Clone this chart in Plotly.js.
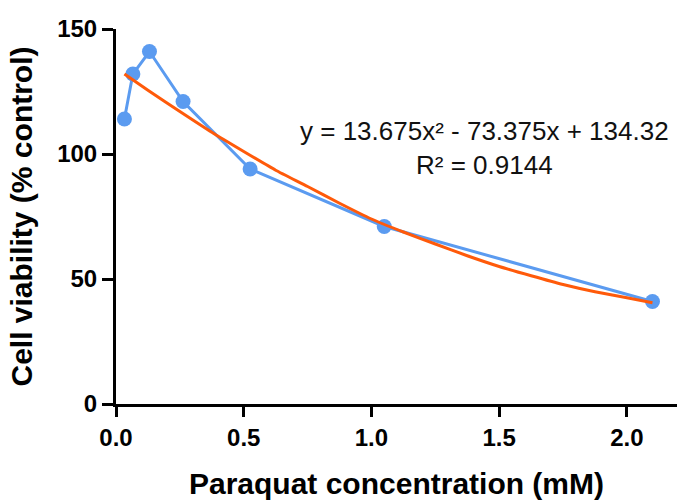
<!DOCTYPE html>
<html>
<head>
<meta charset="utf-8">
<script src="https://cdn.plot.ly/plotly-3.0.1.min.js"></script>
<style>html,body{margin:0;padding:0;background:#fff;}#chart{width:677px;height:500px;}</style>
</head>
<body>
<div id="chart"></div>
<script>
// Measured data (paraquat concentration in mM, viability in % of control)
var concentration = [0.033, 0.066, 0.131, 0.2625, 0.525, 1.05, 2.1];
var viability = [114, 132, 141, 121, 94, 71, 41];

// Trend line
var trendX = [0.033, 0.125, 0.25, 0.375, 0.5, 0.625, 0.75, 0.875, 1.0, 1.125, 1.25, 1.375, 1.5, 1.625, 1.75, 1.875, 2.0, 2.1];
var trendY = [132, 125.5, 117, 108.7, 101, 93.5, 87, 80.3, 74, 68.8, 64, 59.3, 55, 51.3, 47.8, 44.9, 42.5, 40.5];

var xTickVals = [0, 0.5, 1.0, 1.5, 2.0];
var xTickText = ["0.0", "0.5", "1.0", "1.5", "2.0"];
var yTickVals = [0, 50, 100, 150];
var yTickText = ["0", "50", "100", "150"];

var equationText = "y = 13.675x² - 73.375x + 134.32<br>R² = 0.9144";

var traces = [
  {
    x: concentration, y: viability, type: "scatter", mode: "lines+markers",
    line: {color: "#5b9bf0", width: 3},
    marker: {color: "#5b9bf0", size: 15},
    cliponaxis: false, hoverinfo: "x+y"
  },
  {
    x: trendX, y: trendY, type: "scatter", mode: "lines",
    line: {color: "#ff5a0a", width: 3, shape: "spline", smoothing: 0.5},
    cliponaxis: false, hoverinfo: "x+y"
  }
];

var layout = {
  width: 677, height: 500,
  margin: {l: 116, r: 0, t: 29, b: 96},
  paper_bgcolor: "#ffffff", plot_bgcolor: "#ffffff",
  showlegend: false,
  font: {family: "Liberation Sans, Arial, sans-serif", color: "#000"},
  xaxis: {
    range: [0, 2.196], showgrid: false, zeroline: false,
    showline: true, linecolor: "#000", linewidth: 3,
    ticks: "outside", ticklen: 10, tickwidth: 3, tickcolor: "#000",
    tickvals: xTickVals, ticktext: xTickText,
    tickfont: {family: "Liberation Sans, Arial, sans-serif", size: 24, weight: "bold", color: "#000"},
    title: {text: "Paraquat concentration (mM)", font: {family: "Liberation Sans, Arial, sans-serif", size: 30, weight: "bold", color: "#000"}, standoff: 26},
    automargin: false, fixedrange: true
  },
  yaxis: {
    range: [0, 150], showgrid: false, zeroline: false,
    showline: true, linecolor: "#000", linewidth: 3,
    ticks: "outside", ticklen: 11, tickwidth: 3, tickcolor: "#000",
    tickvals: yTickVals, ticktext: yTickText,
    tickfont: {family: "Liberation Sans, Arial, sans-serif", size: 24, weight: "bold", color: "#000"},
    title: {text: "Cell viability (% control)", font: {family: "Liberation Sans, Arial, sans-serif", size: 30, weight: "bold", color: "#000"}, standoff: 16},
    automargin: false, fixedrange: true
  },
  annotations: [{
    x: 1.444, y: 102.5, xref: "x", yref: "y",
    text: equationText, showarrow: false,
    xanchor: "center", yanchor: "middle", align: "center",
    font: {family: "Liberation Sans, Arial, sans-serif", size: 26, color: "#111"}
  }]
};

Plotly.newPlot("chart", traces, layout, {displayModeBar: false, staticPlot: true});
</script>
</body>
</html>
